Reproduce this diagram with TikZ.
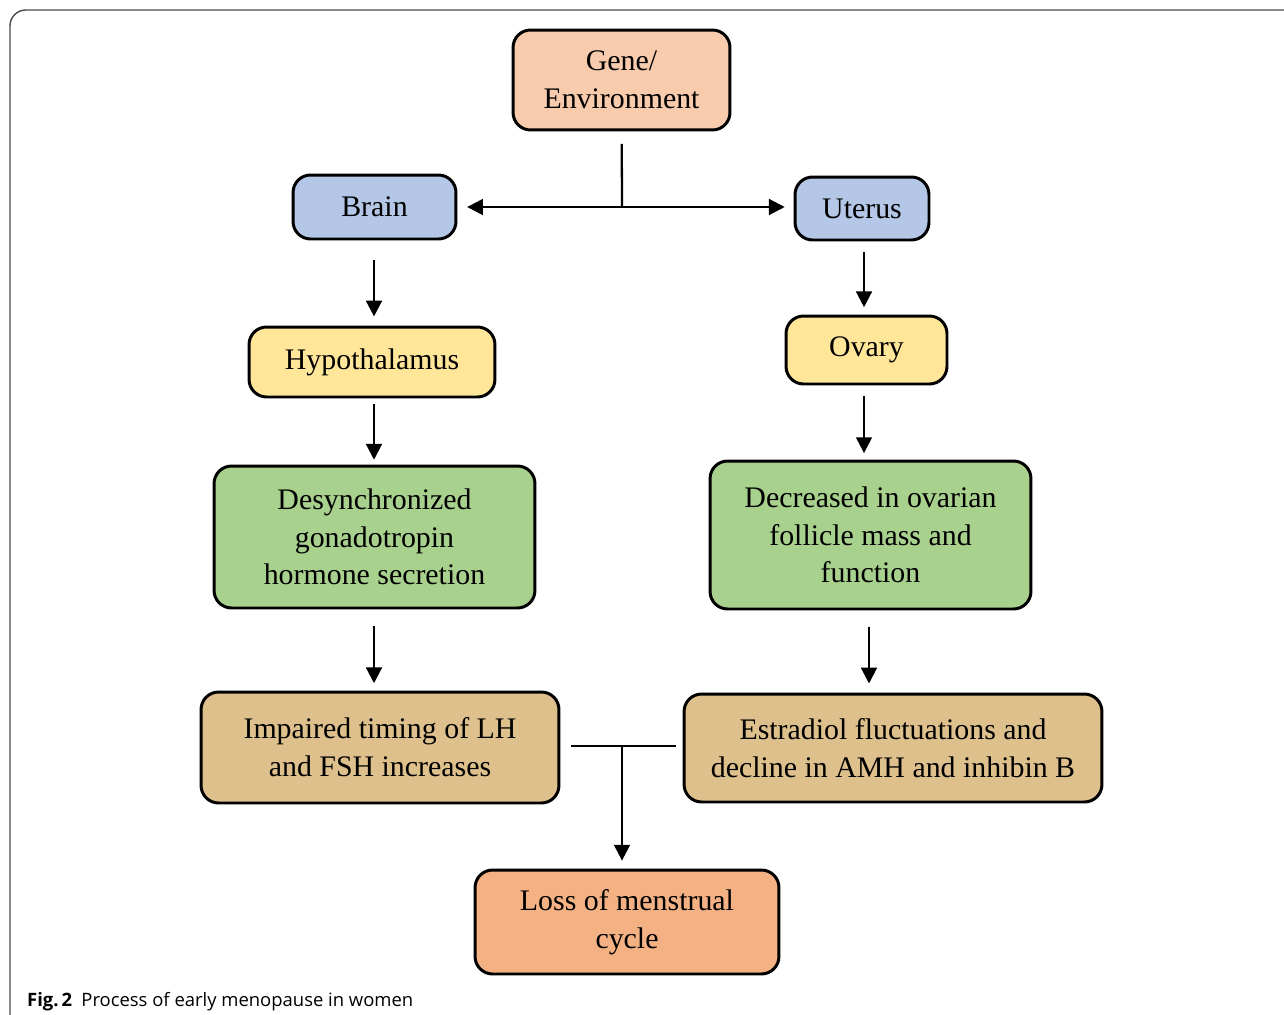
\documentclass[tikz,border=0pt]{standalone}
\usepackage{fontspec}
\setmainfont{Liberation Serif}
\newfontfamily\capfont{Open Sans}
\usetikzlibrary{arrows.meta}

\definecolor{geneclr}{HTML}{F8CBAD}
\definecolor{blueclr}{HTML}{B4C7E7}
\definecolor{yellowclr}{HTML}{FFE699}
\definecolor{greenclr}{HTML}{A9D18E}
\definecolor{tanclr}{HTML}{DEC08C}
\definecolor{lossclr}{HTML}{F4B183}

\begin{document}
\begin{tikzpicture}[x=0.02cm,y=-0.02cm,->,>={Triangle[length=9pt,width=9pt]},line width=1.3pt,
  main node/.style={rectangle,rounded corners=10pt,draw,line width=1.7pt,align=center,inner sep=0pt,font=\fontsize{17}{21.5}\selectfont}]
  \useasboundingbox (0,0) rectangle (1284,1014);
  \draw[-,gray!60!black,line width=0.8pt,rounded corners=9pt] (10,1030) -- (10,10) -- (1300,10);

  \node[main node,fill=geneclr,minimum width=4.34cm,minimum height=2cm] (1) at (621.5,80) {Gene/\\Environment};
  \node[main node,fill=blueclr,minimum width=3.26cm,minimum height=1.28cm] (2) at (374.5,207) {Brain};
  \node[main node,fill=blueclr,minimum width=2.68cm,minimum height=1.26cm] (3) at (862,208.5) {Uterus};
  \node[main node,fill=yellowclr,minimum width=4.92cm,minimum height=1.4cm] (4) at (372,362) {Hypothalamus};
  \node[main node,fill=yellowclr,minimum width=3.22cm,minimum height=1.36cm] (5) at (866.5,350) {Ovary};
  \node[main node,fill=greenclr,minimum width=6.42cm,minimum height=2.84cm] (6) at (374.5,537) {Desynchronized\\gonadotropin\\hormone secretion};
  \node[main node,fill=greenclr,minimum width=6.42cm,minimum height=2.96cm] (7) at (870.5,535) {Decreased in ovarian\\follicle mass and\\function};
  \node[main node,fill=tanclr,minimum width=7.16cm,minimum height=2.22cm] (8) at (380,747.5) {Impaired timing of LH\\and FSH increases};
  \node[main node,fill=tanclr,minimum width=8.36cm,minimum height=2.16cm] (9) at (893,748) {Estradiol fluctuations and\\decline in AMH and inhibin B};
  \node[main node,fill=lossclr,minimum width=6.08cm,minimum height=2.08cm] (10) at (627,922) {Loss of menstrual\\cycle};

  \node[anchor=base west,inner sep=0pt,font=\capfont\fontsize{10.5}{12}\selectfont] (cap) at (26,1006) {\textbf{Fig.\,2}\enspace Process of early menopause in women};

  \coordinate (split) at (622,207);
  \coordinate (join) at (622,746);

  \draw[-,shorten <=7pt] (1) -- (split);
  \path (split) edge[shorten >=5.5pt] (split -| 2.east)
        (split) edge[shorten >=5pt] (split -| 3.west)
        (374,239) edge[shorten <=12pt,shorten >=6pt] (374,327)
        (374,397) edge[shorten <=4pt,shorten >=3pt] (374,465)
        (374,607) edge[shorten <=11pt,shorten >=5pt] (374,692)
        (864,240) edge[shorten <=7pt,shorten >=5pt] (864,316)
        (864,384) edge[shorten <=7pt,shorten >=4.5pt] (864,461)
        (869,609) edge[shorten <=10pt,shorten >=6pt] (869,694)
        (join) edge[shorten >=4.5pt] (join |- 10.north);
  \draw[-,shorten <=6pt,shorten >=4pt] (8.east |- join) -- (9.west |- join);
\end{tikzpicture}
\end{document}
